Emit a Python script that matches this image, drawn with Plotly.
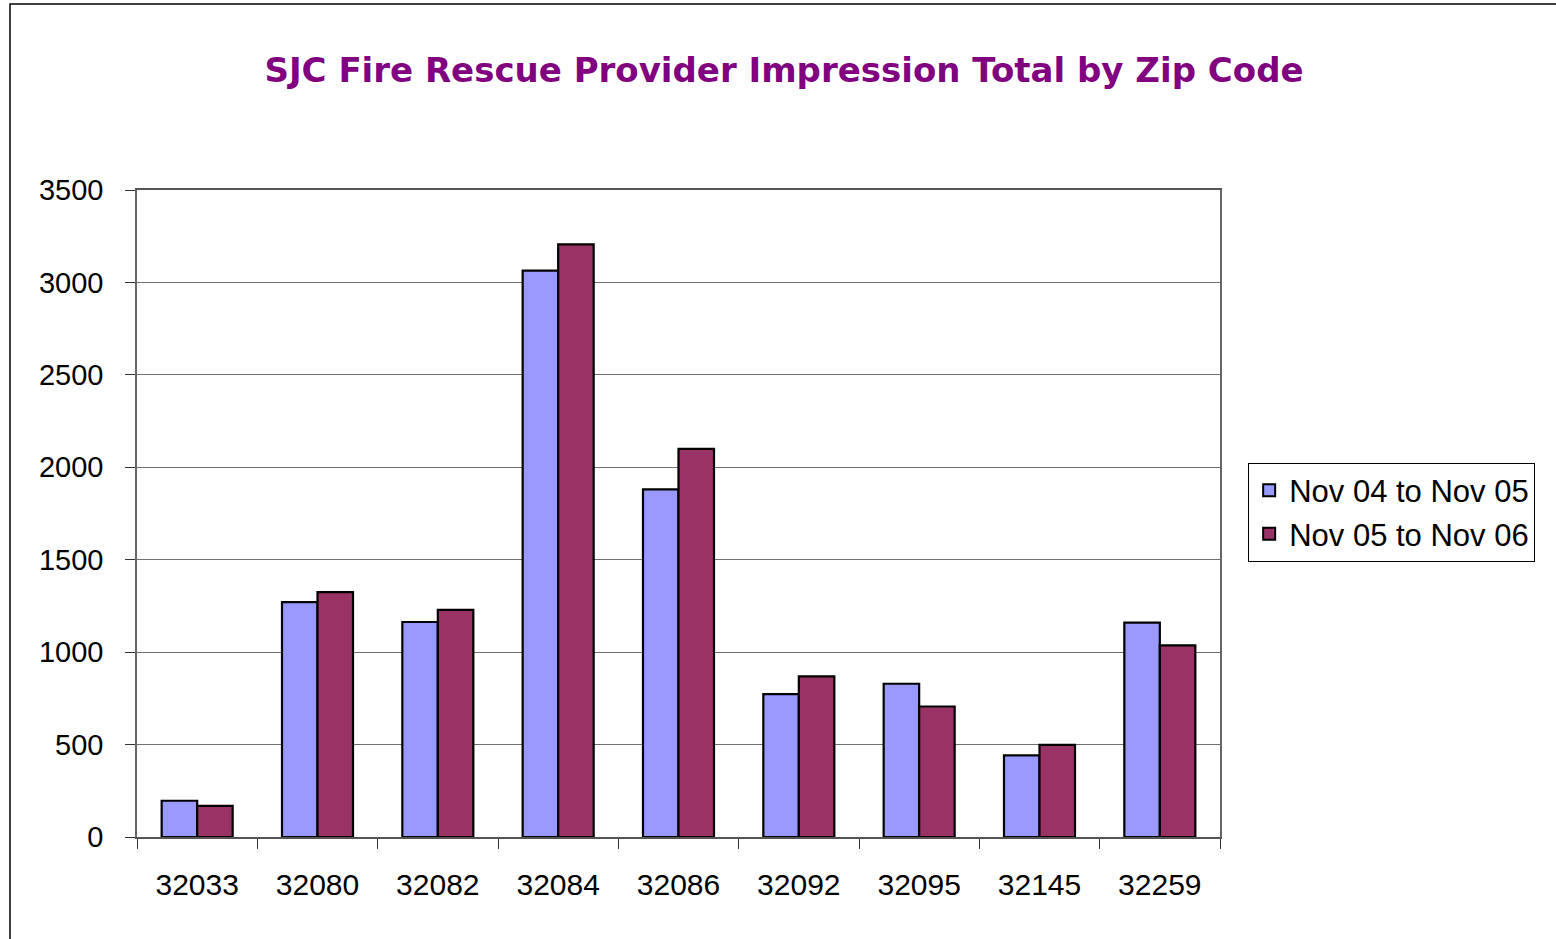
import plotly.graph_objects as go

zip_codes = ["32033", "32080", "32082", "32084", "32086", "32092", "32095", "32145", "32259"]
nov04_nov05 = [196, 1271, 1163, 3064, 1881, 773, 829, 442, 1160]
nov05_nov06 = [168, 1325, 1229, 3206, 2100, 869, 706, 498, 1037]
y_ticks = [0, 500, 1000, 1500, 2000, 2500, 3000, 3500]

fig = go.Figure()
fig.add_trace(go.Bar(x=zip_codes, y=nov04_nov05, name="Nov 04 to Nov 05",
                     marker=dict(color="#9999FF", line=dict(color="black", width=2.2))))
fig.add_trace(go.Bar(x=zip_codes, y=nov05_nov06, name="Nov 05 to Nov 06",
                     marker=dict(color="#993366", line=dict(color="black", width=2.2))))

fig.update_layout(
    width=1556, height=939,
    margin=dict(l=137, r=336, t=190, b=102),
    paper_bgcolor="white", plot_bgcolor="white",
    barmode="group", bargap=0.41, bargroupgap=0,
    title=dict(text="<b>SJC Fire Rescue Provider Impression Total by Zip Code</b>",
               x=784 / 1556, xanchor="center", xref="container", y=1 - 70 / 939, yref="container", yanchor="middle",
               font=dict(family="DejaVu Sans", size=34, color="#800080")),
    legend=dict(x=1.026, xanchor="left", y=0.502, yanchor="middle",
                bgcolor="white", bordercolor="black", borderwidth=1,
                font=dict(family="Liberation Sans Narrow, Liberation Sans, Arial", size=31, color="black"),
                itemsizing="constant", tracegroupgap=14),
    showlegend=True,
)

fig.update_xaxes(type="category", tickson="boundaries", ticks="outside", ticklen=10, tickcolor="#333",
                 showline=True, linecolor="#555", linewidth=1.5, mirror=True,
                 showgrid=False, ticklabelstandoff=20,
                 tickfont=dict(family="Liberation Sans Narrow, Liberation Sans, Arial", size=30, color="black"))
fig.update_yaxes(range=[0, 3500], tickvals=y_ticks, ticks="outside", ticklen=10, tickcolor="#333",
                 showline=True, linecolor="#666", linewidth=1.5, mirror=True,
                 showgrid=True, gridcolor="#707070", gridwidth=1, zeroline=False,
                 ticklabelstandoff=16,
                 tickfont=dict(family="Liberation Sans, Arial", size=29, color="black"))

# outer chart-area frame (left and top edges visible)
fig.add_shape(type="rect", xref="paper", yref="paper",
              x0=(10 - 137) / 1083, x1=1.5, y0=-0.5, y1=(837 - 4) / 647,
              line=dict(color="black", width=1.5), fillcolor="rgba(0,0,0,0)", layer="below")

fig.write_html("out.html", config={"displayModeBar": False},
               post_script="document.body.style.margin='0';")
